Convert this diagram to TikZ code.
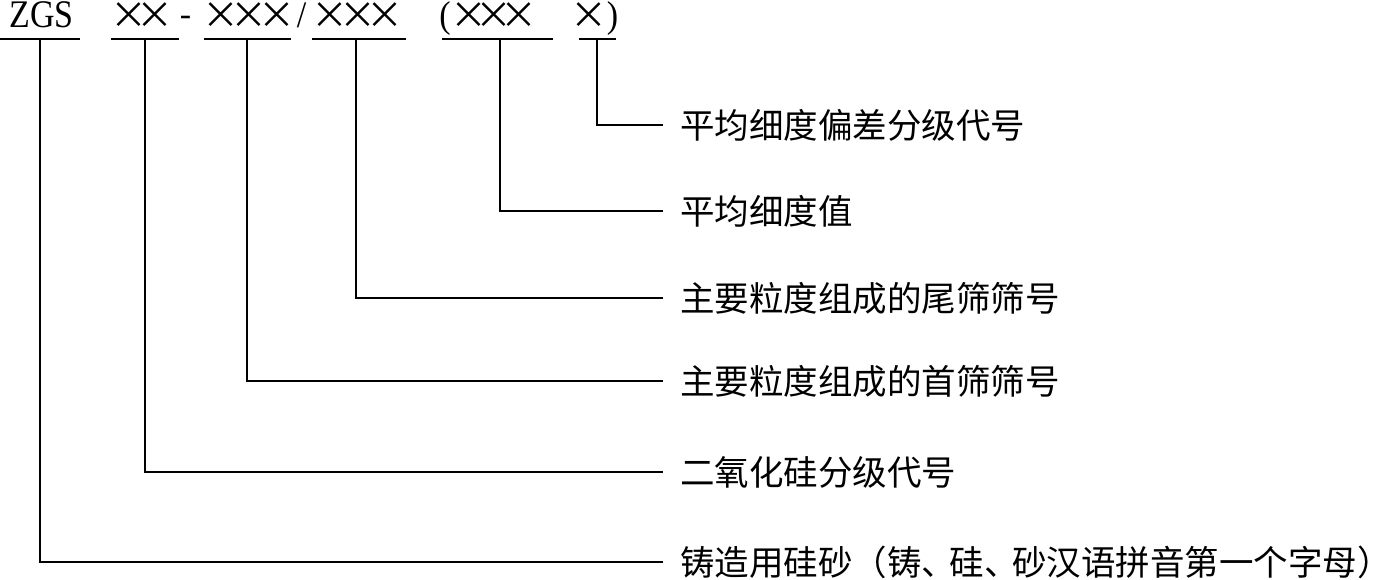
\documentclass[tikz,border=0pt]{standalone}
\usepackage{fontspec}
\usepackage{graphicx}
\setmainfont{Liberation Serif}
\newfontfamily\cjk{Noto Sans CJK SC}
\newcommand{\tm}[1][27pt]{\makebox[#1]{\cjk\fontsize{37}{37}\selectfont ×}}
\newcommand{\dun}{\makebox[28pt][l]{、}}
\begin{document}
\begin{tikzpicture}[x=1pt,y=-1pt,
  lbl/.style={anchor=west, inner xsep=17pt, inner ysep=0pt, font=\cjk\fontsize{34.5}{34.5}\selectfont},
  top/.style={anchor=base, inner sep=0pt, font=\fontsize{34}{34}\selectfont},
  cross/.style={anchor=center, inner sep=0pt},
  ln/.style={line width=1.3pt}]
\useasboundingbox (0,0) rectangle (1381,579);
% top code
\node[top] (zgs) at (41.5,27) {\scalebox{1}[1.15]{ZGS}};
\node[cross] (g1) at (142,16) {\tm[26pt]\tm[26pt]};
\node[top] (hy) at (185.5,25) {-};
\node[cross] (g2) at (249,16) {\tm[28pt]\tm[28pt]\tm[28pt]};
\node[top] (sl) at (301.5,27) {\scalebox{1}[1.1]{/}};
\node[cross] (g3) at (357.5,16) {\tm[27.5pt]\tm[27.5pt]\tm[27.5pt]};
\node[top] (lp) at (445,27) {\scalebox{1}[1.1]{(}};
\node[cross] (g4) at (493.5,16) {\tm[25pt]\tm[25pt]\tm[25pt]};
\node[cross] (g5) at (589,16) {\tm[22pt]};
\node[top] (rp) at (612.5,27) {\scalebox{1}[1.1]{)}};
% underlines
\coordinate (u1a) at (0,39);   \coordinate (u1b) at (80,39);
\coordinate (u2a) at (111,39); \coordinate (u2b) at (179,39);
\coordinate (u3a) at (204,39); \coordinate (u3b) at (291,39);
\coordinate (u4a) at (312,39); \coordinate (u4b) at (406,39);
\coordinate (u5a) at (442,39); \coordinate (u5b) at (553,39);
\coordinate (u6a) at (579,39); \coordinate (u6b) at (616,39);
\foreach \i in {1,...,6} {\draw[ln] (u\i a) -- (u\i b);}
% branch tops
\coordinate (t1) at (40,39);
\coordinate (t2) at (145,39);
\coordinate (t3) at (247,39);
\coordinate (t4) at (356,39);
\coordinate (t5) at (500,39);
\coordinate (t6) at (597,39);
% labels
\node[lbl] (L6) at (663,125) {平均细度偏差分级代号};
\node[lbl] (L5) at (663,211) {平均细度值};
\node[lbl] (L4) at (663,298) {主要粒度组成的尾筛筛号};
\node[lbl] (L3) at (663,381) {主要粒度组成的首筛筛号};
\node[lbl] (L2) at (663,472) {二氧化硅分级代号};
\node[lbl] (L1) at (663,562) {铸造用硅砂（铸\dun 硅\dun 砂汉语拼音第一个字母）};
% connectors
\foreach \i in {1,...,6} {\draw[ln] (t\i) |- (L\i.west);}
\end{tikzpicture}
\end{document}
